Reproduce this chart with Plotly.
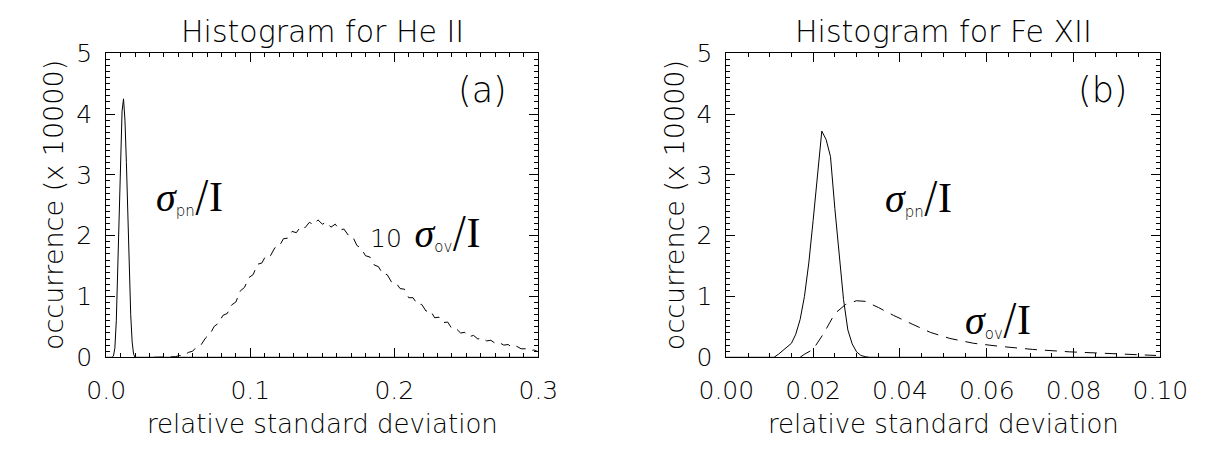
import numpy as np
import plotly.graph_objects as go

# ---- He II panel (a) ----
he_pn_x = [0.000, 0.004, 0.005, 0.006, 0.007, 0.008, 0.009, 0.010, 0.011, 0.012,
           0.013, 0.014, 0.015, 0.016, 0.017, 0.018, 0.019, 0.020, 0.300]
he_pn_y = [0.00, 0.00, 0.02, 0.15, 0.60, 1.40, 2.40, 3.40, 4.05, 4.25,
           3.90, 3.20, 2.30, 1.40, 0.70, 0.25, 0.05, 0.00, 0.00]

# 10 x sigma_ov / I histogram, bins of 0.003 starting at 0.033
he_ov_start = 0.033
he_ov_step = 0.003
he_ov_y = [0.00, 0.00, 0.00,
           0.00, 0.00, 0.01, 0.03, 0.03, 0.08, 0.10, 0.18, 0.21, 0.32,
           0.38, 0.51, 0.56, 0.69, 0.72, 0.86, 0.91, 1.09, 1.15, 1.31,
           1.36, 1.53, 1.55, 1.68, 1.67, 1.80, 1.82, 1.95, 1.96, 2.07,
           2.05, 2.15, 2.13, 2.22, 2.18, 2.26, 2.19, 2.22, 2.14, 2.19,
           2.09, 2.11, 2.01, 1.99, 1.84, 1.79, 1.67, 1.65, 1.52, 1.49,
           1.37, 1.36, 1.24, 1.23, 1.13, 1.12, 0.98, 0.98, 0.87, 0.87,
           0.76, 0.77, 0.65, 0.66, 0.57, 0.58, 0.47, 0.47, 0.40, 0.41,
           0.34, 0.36, 0.30, 0.32, 0.27, 0.28, 0.23, 0.24, 0.20, 0.21,
           0.16, 0.18, 0.14, 0.14, 0.11, 0.12, 0.09]
he_ov_x = np.round(he_ov_start + he_ov_step * np.arange(len(he_ov_y)), 4)

# ---- Fe XII panel (b) ----
fe_pn_x = [0.000, 0.010, 0.011, 0.012, 0.013, 0.014, 0.015, 0.016, 0.017, 0.018,
           0.019, 0.020, 0.021, 0.022, 0.023, 0.024, 0.025, 0.026, 0.027, 0.028,
           0.029, 0.030, 0.031, 0.032, 0.033, 0.100]
fe_pn_y = [0.00, 0.00, 0.00, 0.05, 0.11, 0.17, 0.23, 0.38, 0.62, 1.00,
           1.55, 2.25, 2.95, 3.72, 3.58, 3.30, 2.45, 1.70, 0.95, 0.45,
           0.22, 0.09, 0.03, 0.01, 0.00, 0.00]

fe_ov_x = [0.017, 0.018, 0.020, 0.0225, 0.025, 0.0275, 0.030, 0.032, 0.035, 0.0385,
           0.043, 0.047, 0.0515, 0.057, 0.063, 0.0705, 0.079, 0.088, 0.099]
fe_ov_y = [0.00, 0.05, 0.13, 0.40, 0.72, 0.87, 0.93, 0.92, 0.82, 0.69,
           0.54, 0.41, 0.31, 0.23, 0.18, 0.13, 0.09, 0.06, 0.03]

titles = ["Histogram for He II", "Histogram for Fe XII"]
x_title = "relative standard deviation"
y_title = "occurrence (x 10000)"
panel_tags = ["(a)", "(b)"]

W, H = 1217, 449
SANS = "DejaVu Sans"
SERIF = "Liberation Serif"
THIN = 200

dom_a = [82 / W, 535 / W]
dom_b = [732 / W, 1187 / W]
dom_y = [1 - 367 / H, 1 - 42 / H]

fig = go.Figure()
fig.add_trace(go.Scatter(x=he_pn_x, y=he_pn_y, mode="lines",
                         line=dict(color="black", width=1), xaxis="x", yaxis="y"))
fig.add_trace(go.Scatter(x=he_ov_x, y=he_ov_y, mode="lines",
                         line=dict(color="black", width=1, dash="10px,7px"),
                         xaxis="x", yaxis="y"))
fig.add_trace(go.Scatter(x=fe_pn_x, y=fe_pn_y, mode="lines",
                         line=dict(color="black", width=1), xaxis="x2", yaxis="y2"))
fig.add_trace(go.Scatter(x=fe_ov_x, y=fe_ov_y, mode="lines",
                         line=dict(color="black", width=1, dash="12px,8px"),
                         xaxis="x2", yaxis="y2"))

tickfont = dict(family=SANS, size=25, color="black", weight=THIN)


def axis(domain, rng, dtick, minor_dtick, fmt, anchor, standoff):
    return dict(domain=domain, range=rng, dtick=dtick, tick0=0, tickformat=fmt,
                anchor=anchor, showline=True, linecolor="black", linewidth=1,
                mirror="allticks", ticks="inside", ticklen=9, tickwidth=1,
                tickcolor="black", showgrid=False, zeroline=False,
                tickfont=tickfont, ticklabelstandoff=standoff,
                minor=dict(dtick=minor_dtick, tick0=0, ticks="inside", ticklen=4,
                           tickwidth=1, tickcolor="black", showgrid=False))


fig.update_layout(
    width=W, height=H, margin=dict(l=0, r=0, t=0, b=0),
    paper_bgcolor="white", plot_bgcolor="white", showlegend=False,
    xaxis=axis(dom_a, [0, 0.3], 0.1, 0.01, ".1f", "y", 11),
    yaxis=axis(dom_y, [0, 5], 1, 0.1, "d", "x", 8),
    xaxis2=axis(dom_b, [0, 0.1], 0.02, 0.005, ".2f", "y2", 11),
    yaxis2=axis(dom_y, [0, 5], 1, 0.1, "d", "x2", 8),
)

ann = []
for dom, t in zip([dom_a, dom_b], titles):
    cx = (dom[0] + dom[1]) / 2
    ann.append(dict(text=t, x=cx, y=1 - 19 / H, xref="paper", yref="paper",
                    xanchor="center", yanchor="middle", showarrow=False,
                    font=dict(family=SANS, size=30, color="black", weight=THIN)))
    ann.append(dict(text=x_title, x=cx, y=1 - 438 / H, xref="paper", yref="paper",
                    xanchor="center", yanchor="middle", showarrow=False,
                    font=dict(family=SANS, size=26, color="black", weight=THIN)))
    ann.append(dict(text=y_title, x=dom[0] - 55 / W, y=(dom_y[0] + dom_y[1]) / 2,
                    xref="paper", yref="paper", xanchor="center", yanchor="middle",
                    textangle=-90, showarrow=False,
                    font=dict(family=SANS, size=27, color="black", weight=THIN)))


def sigma_label(sub, prefix=""):
    # Greek sigma in italic serif, small sans subscript, tall slash, serif I
    return (prefix +
            f'<span style="font-family:{SERIF};font-size:40px"><i>σ</i></span>'
            f'<sub><span style="font-size:15px">{sub}</span></sub>'
            f'<span style="font-size:42px">/</span>'
            f'<span style="font-family:{SERIF};font-size:42px">I</span>')


lab_font = dict(family=SANS, size=25, color="black", weight=THIN)
tag_font = dict(family=SANS, size=35, color="black", weight=THIN)
ann += [
    dict(text=panel_tags[0], x=0.261, y=4.40, xref="x", yref="y", showarrow=False,
         xanchor="center", yanchor="middle", font=tag_font),
    dict(text=panel_tags[1], x=0.0868, y=4.40, xref="x2", yref="y2", showarrow=False,
         xanchor="center", yanchor="middle", font=tag_font),
    dict(text=sigma_label("pn"), x=0.033, y=2.64, xref="x", yref="y", showarrow=False,
         xanchor="left", yanchor="middle", font=lab_font),
    dict(text=sigma_label("ov", '10<span style="font-size:40px"> </span>'),
         x=0.182, y=2.05, xref="x", yref="y",
         showarrow=False, xanchor="left", yanchor="middle", font=lab_font),
    dict(text=sigma_label("pn"), x=0.0362, y=2.63, xref="x2", yref="y2",
         showarrow=False, xanchor="left", yanchor="middle", font=lab_font),
    dict(text=sigma_label("ov"), x=0.0545, y=0.62, xref="x2", yref="y2",
         showarrow=False, xanchor="left", yanchor="middle", font=lab_font),
]
fig.update_layout(annotations=ann)

fig.write_html("out.html")
